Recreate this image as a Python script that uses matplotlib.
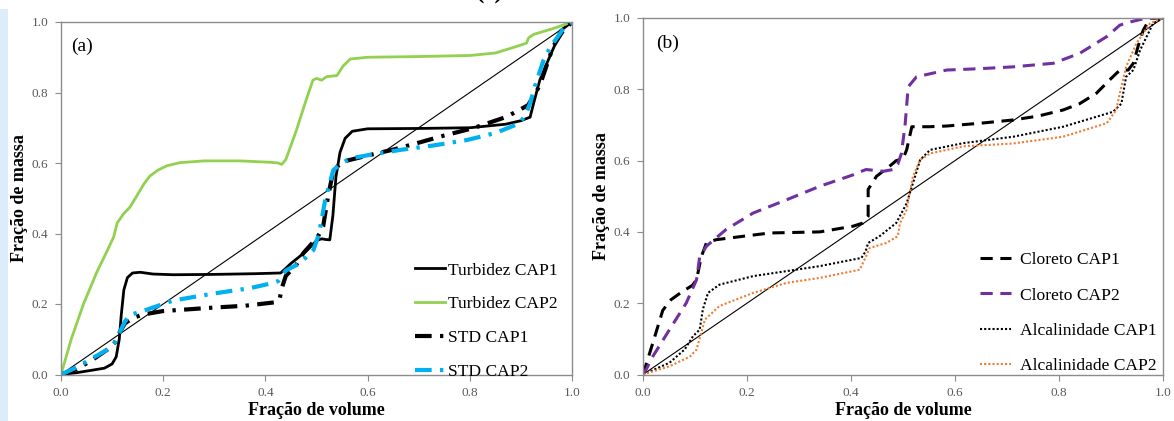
import matplotlib
matplotlib.use("Agg")
import matplotlib.pyplot as plt
from matplotlib.patches import Rectangle

# ---------------- data ----------------
diag = [0.0, 1.0]

turb1_x = [0, 0.03, 0.06, 0.085, 0.1, 0.108, 0.114, 0.118, 0.123, 0.13, 0.14, 0.155, 0.18, 0.22, 0.3, 0.38, 0.43,
           0.45, 0.48, 0.5, 0.51, 0.518, 0.526, 0.532, 0.538, 0.546, 0.556, 0.57, 0.6, 0.7, 0.8, 0.87, 0.9, 0.918,
           0.925, 0.937, 0.95, 0.965, 0.977, 1.0]
turb1_y = [0, 0.005, 0.012, 0.018, 0.03, 0.05, 0.1, 0.17, 0.24, 0.275, 0.288, 0.29, 0.285, 0.283, 0.284, 0.286, 0.288,
           0.315, 0.35, 0.38, 0.385, 0.383, 0.382, 0.45, 0.56, 0.63, 0.67, 0.69, 0.697, 0.698, 0.7, 0.71, 0.72, 0.73,
           0.77, 0.835, 0.88, 0.93, 0.975, 1.0]

turb2_x = [0, 0.02, 0.044, 0.07, 0.09, 0.103, 0.11, 0.122, 0.135, 0.148, 0.162, 0.174, 0.19, 0.207, 0.233, 0.28, 0.35,
           0.41, 0.425, 0.432, 0.44, 0.46, 0.48, 0.493, 0.5, 0.51, 0.52, 0.54, 0.552, 0.566, 0.6, 0.7, 0.8, 0.85,
           0.89, 0.911, 0.915, 0.925, 0.96, 1.0]
turb2_y = [0, 0.1, 0.2, 0.29, 0.35, 0.39, 0.43, 0.455, 0.475, 0.506, 0.54, 0.563, 0.58, 0.592, 0.601, 0.606, 0.606,
           0.602, 0.6, 0.596, 0.61, 0.69, 0.78, 0.835, 0.84, 0.835, 0.845, 0.848, 0.875, 0.895, 0.9, 0.902, 0.905,
           0.912, 0.93, 0.94, 0.955, 0.965, 0.98, 1.0]

std1_x = [0, 0.03, 0.06, 0.09, 0.105, 0.115, 0.125, 0.14, 0.16, 0.2, 0.25, 0.3, 0.36, 0.42, 0.428, 0.432, 0.44, 0.46,
          0.474, 0.49, 0.5, 0.506, 0.513, 0.522, 0.533, 0.552, 0.597, 0.65, 0.696, 0.75, 0.807, 0.872, 0.914, 0.925,
          0.937, 0.95, 0.963, 0.98, 1.0]
std1_y = [0, 0.015, 0.04, 0.07, 0.09, 0.12, 0.145, 0.16, 0.17, 0.18, 0.185, 0.19, 0.195, 0.205, 0.215, 0.245, 0.28,
          0.31, 0.344, 0.37, 0.385, 0.4, 0.42, 0.5, 0.58, 0.604, 0.62, 0.638, 0.656, 0.678, 0.699, 0.731, 0.764, 0.79,
          0.82, 0.875, 0.93, 0.97, 1.0]

std2_x = [0, 0.03, 0.06, 0.09, 0.105, 0.115, 0.125, 0.135, 0.16, 0.22, 0.3, 0.37, 0.416, 0.425, 0.432, 0.44, 0.468,
          0.494, 0.505, 0.517, 0.533, 0.55, 0.566, 0.6, 0.663, 0.73, 0.794, 0.85, 0.898, 0.91, 0.918, 0.93, 0.944,
          0.958, 0.972, 0.985, 1.0]
std2_y = [0, 0.02, 0.045, 0.07, 0.09, 0.12, 0.15, 0.169, 0.18, 0.21, 0.23, 0.245, 0.26, 0.265, 0.28, 0.295, 0.316,
          0.353, 0.4, 0.495, 0.58, 0.6, 0.613, 0.622, 0.637, 0.65, 0.665, 0.685, 0.713, 0.74, 0.77, 0.83, 0.89, 0.93,
          0.958, 0.985, 1.0]

clo1_x = [0, 0.003, 0.019, 0.038, 0.054, 0.077, 0.095, 0.103, 0.112, 0.122, 0.14, 0.167, 0.244, 0.34, 0.404, 0.423,
          0.433, 0.433, 0.449, 0.474, 0.487, 0.5, 0.507, 0.517, 0.55, 0.584, 0.65, 0.712, 0.76, 0.808, 0.84, 0.872,
          0.9, 0.917, 0.933, 0.943, 0.952, 0.962, 0.975, 1.0]
clo1_y = [0, 0.014, 0.089, 0.18, 0.21, 0.234, 0.25, 0.266, 0.33, 0.369, 0.378, 0.383, 0.397, 0.4, 0.416, 0.425,
          0.444, 0.519, 0.556, 0.584, 0.6, 0.605, 0.63, 0.695, 0.695, 0.697, 0.705, 0.714, 0.725, 0.742, 0.76, 0.789,
          0.83, 0.854, 0.854, 0.873, 0.92, 0.966, 0.999, 1.0]

clo2_x = [0, 0.006, 0.019, 0.051, 0.083, 0.103, 0.109, 0.122, 0.16, 0.212, 0.276, 0.34, 0.404, 0.42, 0.429, 0.462,
          0.481, 0.49, 0.497, 0.504, 0.51, 0.526, 0.584, 0.65, 0.712, 0.789, 0.84, 0.892, 0.917, 0.94, 0.969, 1.0]
clo2_y = [0, 0.014, 0.051, 0.126, 0.2, 0.266, 0.33, 0.36, 0.407, 0.453, 0.49, 0.528, 0.56, 0.57, 0.575, 0.57,
          0.575, 0.59, 0.62, 0.7, 0.807, 0.835, 0.854, 0.858, 0.863, 0.873, 0.901, 0.948, 0.98, 0.99, 1.0, 1.0]

alc1_x = [0, 0.051, 0.08, 0.096, 0.109, 0.115, 0.125, 0.147, 0.212, 0.276, 0.34, 0.42, 0.428, 0.433, 0.455, 0.487,
          0.507, 0.519, 0.533, 0.552, 0.616, 0.712, 0.808, 0.904, 0.92, 0.929, 0.943, 0.956, 0.981, 1.0]
alc1_y = [0, 0.033, 0.07, 0.107, 0.126, 0.182, 0.229, 0.252, 0.276, 0.29, 0.304, 0.327, 0.345, 0.369, 0.388, 0.425,
          0.48, 0.536, 0.602, 0.63, 0.649, 0.667, 0.695, 0.737, 0.76, 0.835, 0.854, 0.91, 0.985, 1.0]

alc2_x = [0, 0.051, 0.09, 0.103, 0.112, 0.119, 0.147, 0.212, 0.276, 0.34, 0.417, 0.429, 0.436, 0.468, 0.49, 0.494,
          0.507, 0.519, 0.533, 0.552, 0.616, 0.712, 0.808, 0.892, 0.91, 0.917, 0.929, 0.949, 0.975, 1.0]
alc2_y = [0, 0.023, 0.05, 0.07, 0.117, 0.154, 0.192, 0.229, 0.257, 0.271, 0.294, 0.332, 0.355, 0.369, 0.388, 0.424,
          0.462, 0.555, 0.602, 0.62, 0.64, 0.648, 0.667, 0.705, 0.742, 0.789, 0.863, 0.929, 0.985, 1.0]

ticks = [0.0, 0.2, 0.4, 0.6, 0.8, 1.0]
tick_labels = ["0.0", "0.2", "0.4", "0.6", "0.8", "1.0"]
xlabel = "Fração de volume"
ylabel = "Fração de massa"

# ---------------- styling ----------------
plt.rcParams["font.family"] = ["Liberation Serif", "DejaVu Serif"]
SPINE = "#8c8c8c"
TICKC = "#595959"

fig = plt.figure(figsize=(11.74, 4.21), dpi=100)
fig.patches.append(Rectangle((0, 0), 8 / 1174, 1 - 9 / 421, transform=fig.transFigure,
                             facecolor="#dcecfa", edgecolor="none", zorder=0))
fig.text(490 / 1174, 1.0 + 1 / 421, "(c)", ha="center", va="baseline", fontsize=18, fontweight="bold")

axA = fig.add_axes([61 / 1174, 1 - 374.5 / 421, 511 / 1174, 352.5 / 421])
axB = fig.add_axes([643 / 1174, 1 - 374.5 / 421, 520 / 1174, 356.5 / 421])


def style(ax):
    ax.set_xlim(0, 1)
    ax.set_ylim(0, 1)
    ax.set_xticks(ticks)
    ax.set_xticklabels(tick_labels)
    ax.set_yticks(ticks)
    ax.set_yticklabels(tick_labels)
    for s in ax.spines.values():
        s.set_color(SPINE)
        s.set_linewidth(1.0)
    ax.tick_params(direction="out", length=4, width=0.8, color=SPINE, labelcolor=TICKC, labelsize=9.5, pad=5)
    ax.set_xlabel(xlabel, fontsize=13, fontweight="bold", labelpad=2)
    ax.set_ylabel(ylabel, fontsize=13, fontweight="bold", labelpad=2.5)
    ax.plot(diag, diag, color="black", lw=0.8, zorder=1)


style(axA)
style(axB)

dashdot = (0, (4, 2, 0.8, 2))
axA.plot(turb1_x, turb1_y, color="black", lw=2.0, label="Turbidez CAP1")
axA.plot(turb2_x, turb2_y, color="#92d050", lw=2.0, label="Turbidez CAP2")
axA.plot(std1_x, std1_y, color="black", lw=3.0, linestyle=dashdot, label="STD CAP1")
axA.plot(std2_x, std2_y, color="#00b0f0", lw=3.0, linestyle=dashdot, label="STD CAP2")
axA.text(0.02, 0.93, "(a)", transform=axA.transAxes, fontsize=14, va="center", ha="left")
axA.legend(loc="lower right", bbox_to_anchor=(0.972, -0.015), frameon=False, fontsize=12.6,
           handlelength=1.75, handletextpad=0.15, labelspacing=1.0, borderpad=0, borderaxespad=0)

axB.plot(clo1_x, clo1_y, color="black", lw=2.2, linestyle=(0, (4, 2.5)), label="Cloreto CAP1")
axB.plot(clo2_x, clo2_y, color="#7030a0", lw=2.2, linestyle=(0, (4, 2.5)), label="Cloreto CAP2")
axB.plot(alc1_x, alc1_y, color="black", lw=1.5, linestyle=(0, (1, 1)), label="Alcalinidade CAP1")
axB.plot(alc2_x, alc2_y, color="#ed7d31", lw=1.5, linestyle=(0, (1, 1)), label="Alcalinidade CAP2")
axB.text(0.025, 0.93, "(b)", transform=axB.transAxes, fontsize=14, va="center", ha="left")
axB.legend(loc="lower right", bbox_to_anchor=(0.987, 0.0), frameon=False, fontsize=12.6,
           handlelength=1.75, handletextpad=0.5, labelspacing=1.1, borderpad=0, borderaxespad=0)

fig.savefig("out.png", dpi=100)
